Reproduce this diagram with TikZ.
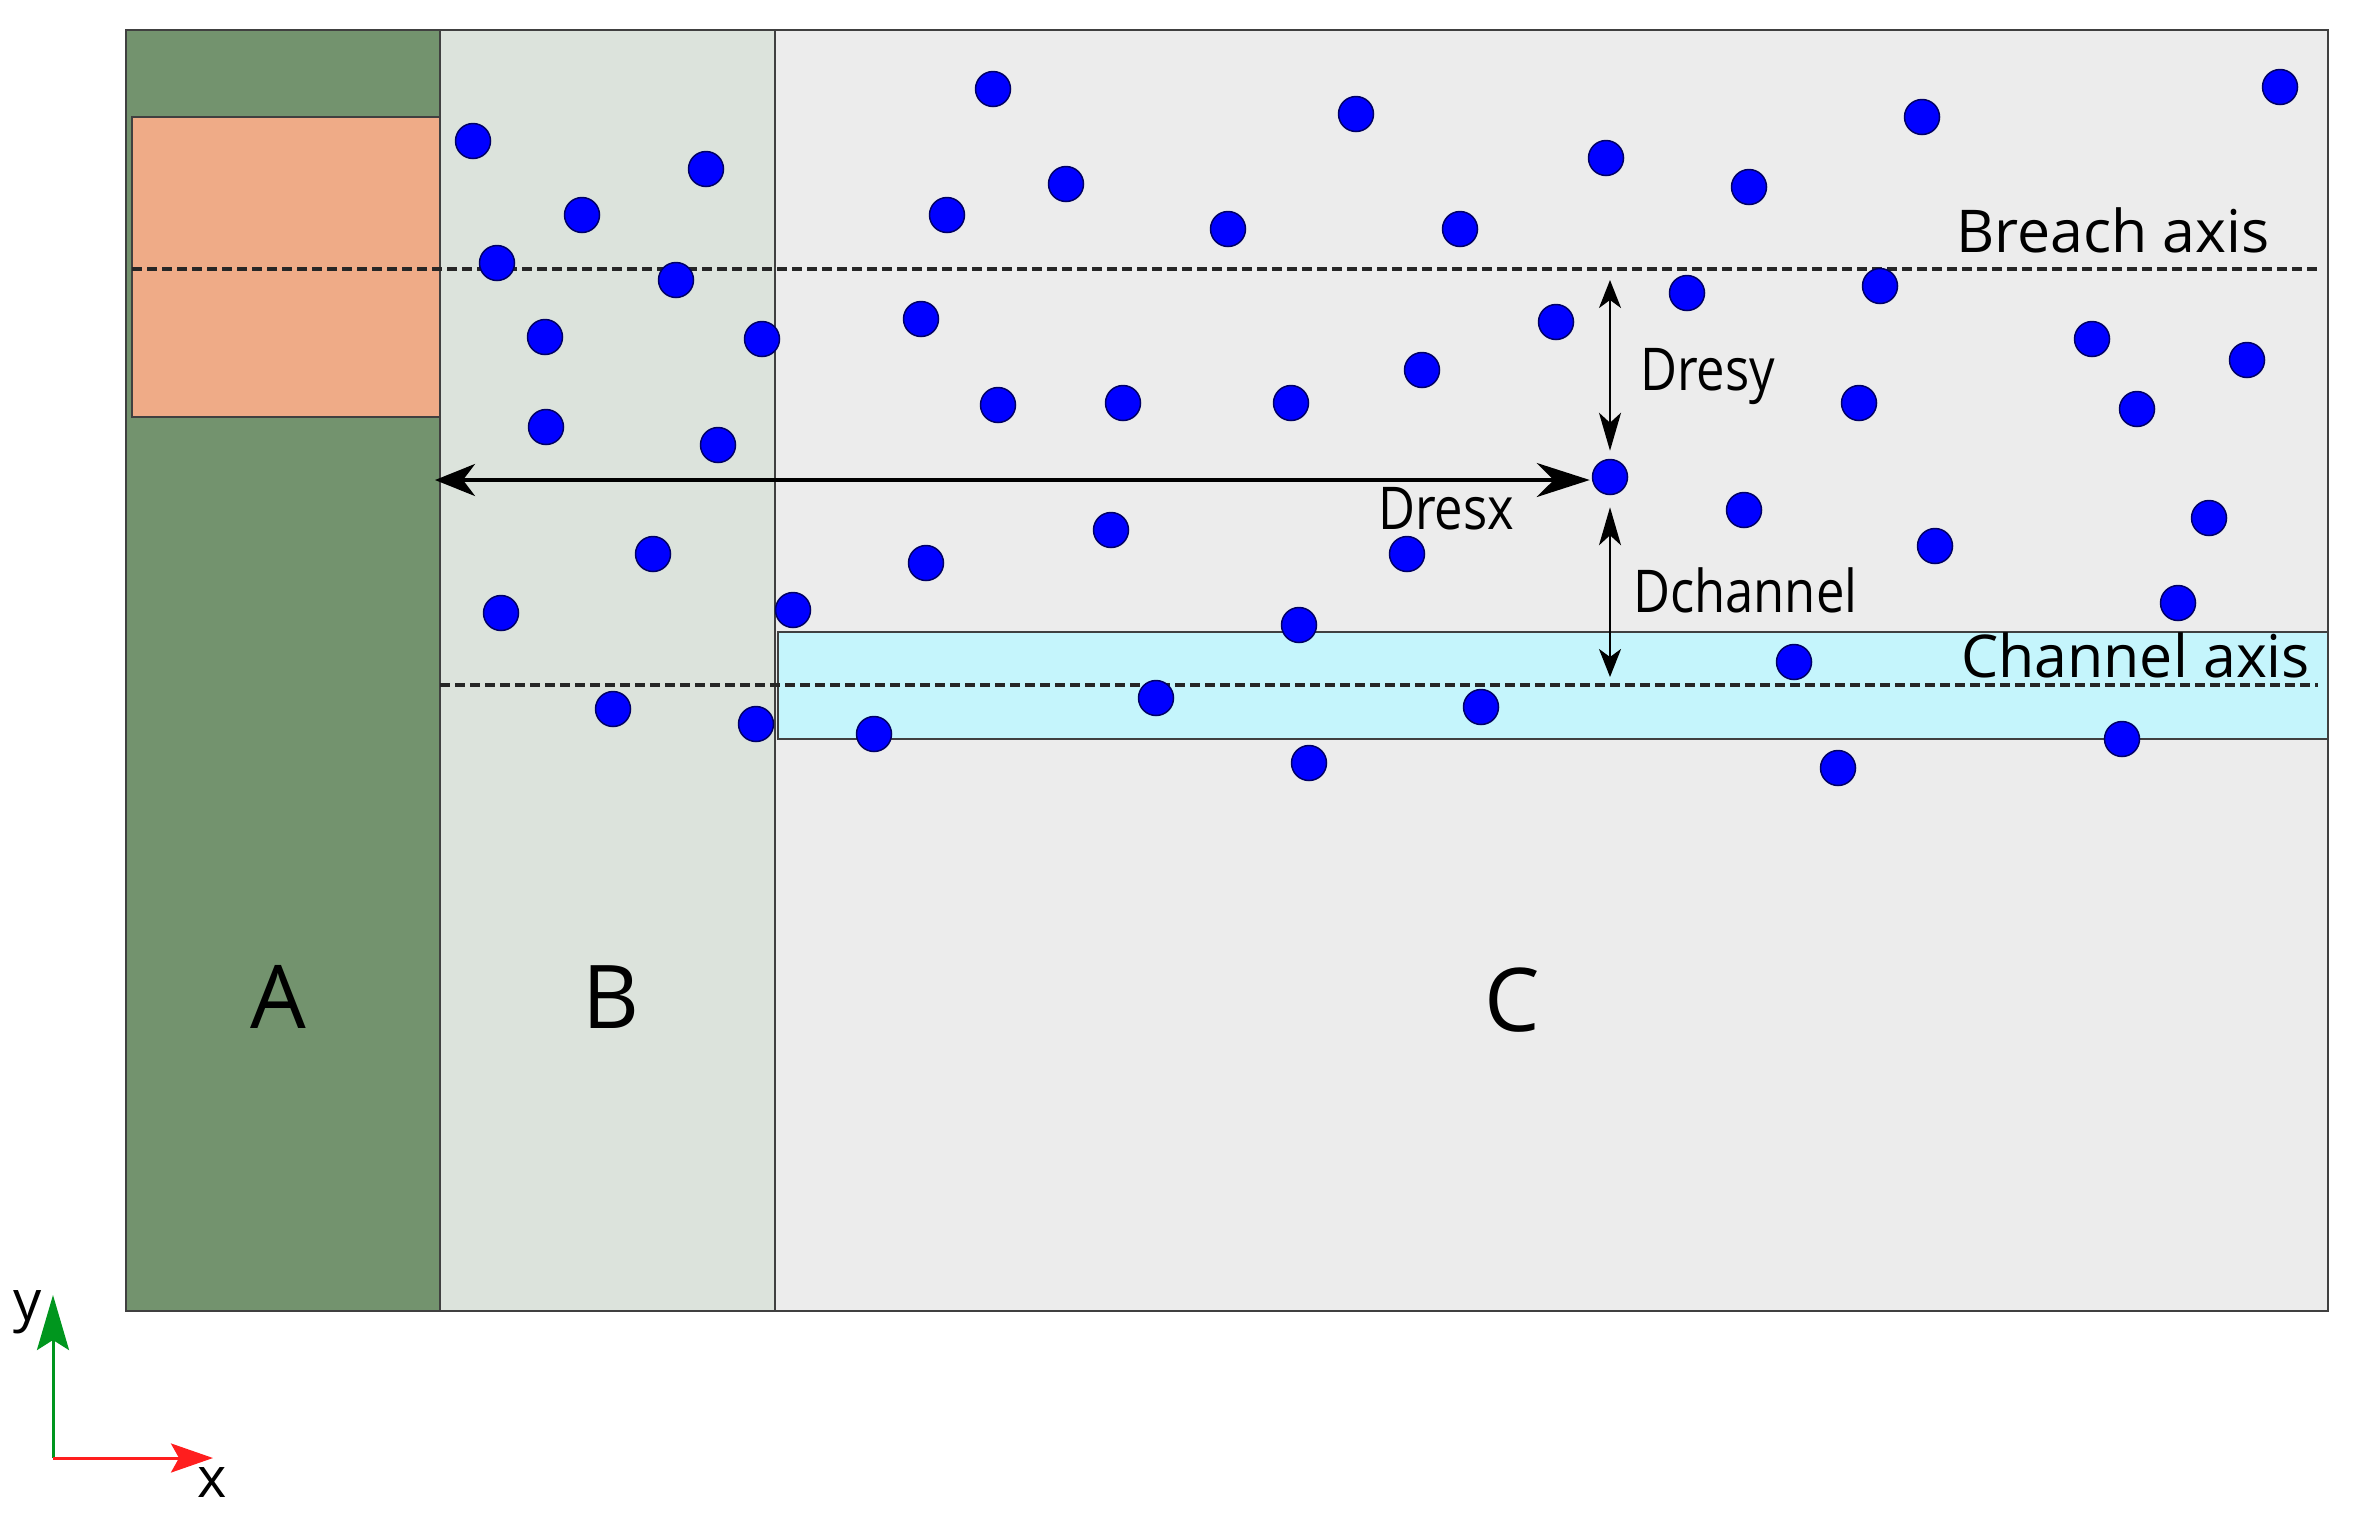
\documentclass[tikz,border=0pt]{standalone}
\usepackage{fontspec}
\setmainfont{Open Sans}
\usetikzlibrary{arrows.meta}
\definecolor{regA}{RGB}{115,147,110}
\definecolor{regB}{RGB}{220,227,220}
\definecolor{regC}{RGB}{236,236,236}
\definecolor{breachfill}{RGB}{239,171,135}
\definecolor{chanfill}{RGB}{197,245,252}
\definecolor{framegray}{RGB}{64,64,64}
\definecolor{axgreen}{RGB}{0,150,30}
\definecolor{axred}{RGB}{255,30,30}
\definecolor{dotblue}{RGB}{0,0,255}
\newcommand{\condensed}[1]{\scalebox{0.86}[1.0]{#1}}
\tikzset{
  zone/.style={draw=framegray, line width=2.5pt},
  axisline/.style={dashed, dash pattern=on 10pt off 5pt, line width=4pt, black!85},
  dot/.style={circle, fill=dotblue, draw=black!60!blue, line width=1.5pt, minimum size=35pt, inner sep=0pt},
  lbl/.style={font=\fontsize{59}{70}\selectfont, inner sep=0pt, anchor=base west},
  zonelbl/.style={font=\fontsize{88}{100}\selectfont, inner sep=0pt, anchor=base},
  axlbl/.style={font=\fontsize{56}{66}\selectfont, inner sep=0pt, anchor=base},
  bigarrow/.style={line width=3.5pt, arrows={Stealth[length=40pt,width=32pt,inset=12pt]-Stealth[length=53pt,width=34pt,inset=17pt]}},
  smallarrow/.style={line width=2.5pt, arrows={Stealth[length=38pt,width=22pt,inset=10pt]-Stealth[length=28pt,width=22pt,inset=8pt]}},
}
\begin{document}
\begin{tikzpicture}[x=1pt, y=-1pt]
\useasboundingbox (0,0) rectangle (2360,1513);
% zones
\fill[regA] (126,30) rectangle (440,1311);
\fill[regB] (440,30) rectangle (775,1311);
\fill[regC] (775,30) rectangle (2328,1311);
\draw[zone] (126,30) rectangle (2328,1311);
\draw[zone] (440,30) -- (440,1311);
\draw[zone] (775,30) -- (775,1311);
% breach and channel
\draw[zone, fill=breachfill] (132,117) rectangle (440,417);
\draw[zone, fill=chanfill] (778,632) rectangle (2328,739);
% axes lines
\coordinate (breachL) at (132,269);
\coordinate (breachR) at (2318,269);
\coordinate (chanL) at (440,685);
\coordinate (chanR) at (2318,685);
\draw[axisline] (breachL) -- (breachR);
\draw[axisline] (chanL) -- (chanR);
% dots
\foreach \x/\y [count=\i] in {473/141, 706/169, 582/215, 497/263, 676/280, 545/337, 762/339, 546/427, 718/445, 653/554, 501/613, 793/610, 613/709, 756/724,
 993/89, 1356/114, 1606/158, 1922/117, 2280/87, 1066/184, 947/215, 1228/229, 1460/229, 1749/187, 1687/293, 1880/286, 921/319, 1556/322, 1422/370, 998/405, 1123/403, 1291/403, 1859/403, 2092/339, 2247/360, 2137/409, 1744/510, 1935/546, 2209/518, 1111/530, 926/563, 1407/554, 2178/603, 1299/625, 1794/662, 1156/698, 1481/707, 874/734, 1309/763, 1838/768, 2122/739}
  \node[dot] (d\i) at (\x,\y) {};
\node[dot] (t) at (1610,477) {};
% distance arrows
\coordinate (Bleft) at (440,480);
\draw[bigarrow, shorten <=-5pt, shorten >=2pt] (Bleft) -- (Bleft -| t.west);
\draw[smallarrow, shorten <=8pt, shorten >=11pt] (t.north) -- (t.north |- breachL);
\draw[smallarrow, shorten <=12pt, shorten >=8pt] (t.south) -- (t.south |- chanL);
% labels
\node[lbl] (lresy) at (1640,390) {\condensed{Dresy}};
\node[lbl] (lchan) at (1633,612) {\condensed{Dchannel}};
\node[lbl] (lresx) at (1378,529) {\condensed{Dresx}};
\node[lbl] (lbreach) at (1956,252) {Breach axis};
\node[lbl] (lchanax) at (1961,677) {Channel axis};
\node[zonelbl] (zA) at (278,1028) {A};
\node[zonelbl] (zB) at (611,1028) {B};
\node[zonelbl] (zC) at (1512,1031) {C};
% coordinate system
\coordinate (O) at (53,1458);
\coordinate (ytip) at (53,1295);
\coordinate (xtip) at (213,1458);
\draw[axgreen, line width=3pt, -{Stealth[length=55pt,width=32pt,inset=10pt]}] (O) -- (ytip);
\draw[axred, line width=3pt, -{Stealth[length=42pt,width=29pt,inset=8pt]}] (O) -- (xtip);
\node[axlbl] (ylab) at (28,1320) {y};
\node[axlbl] (xlab) at (212,1497) {x};
\end{tikzpicture}
\end{document}
